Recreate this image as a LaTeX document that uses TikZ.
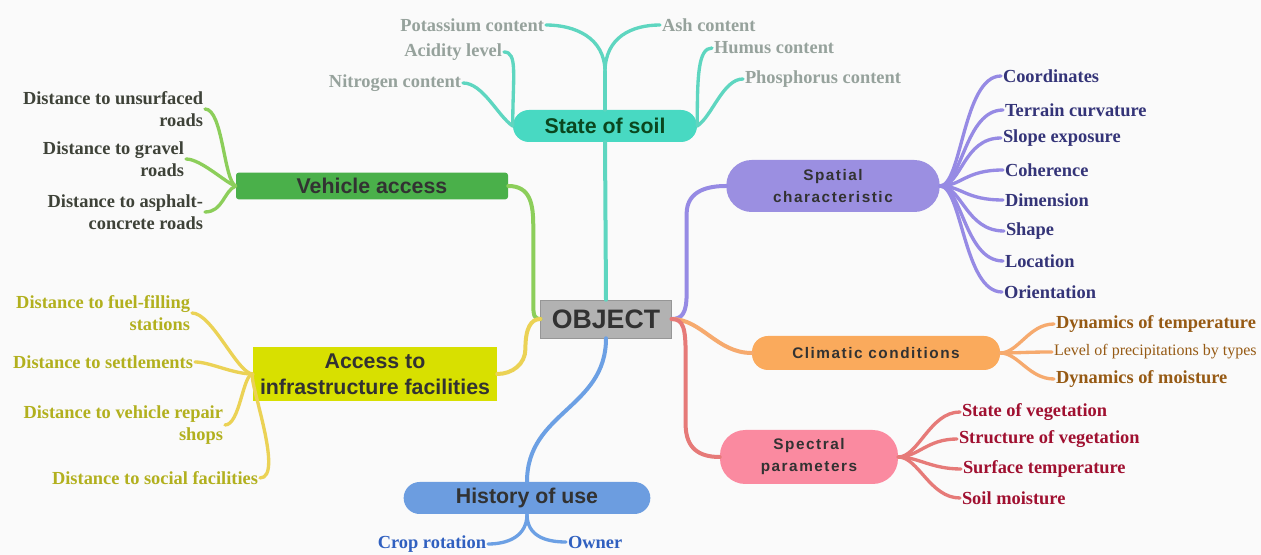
\documentclass[tikz,border=0pt]{standalone}
\usepackage{fontspec}
\setmainfont{Liberation Serif}
\setsansfont{Liberation Sans}
\newfontfamily\spaced[LetterSpace=10]{Liberation Sans}
\usepackage{tikz}

\definecolor{paper}{RGB}{250,250,250}
\definecolor{hubtext}{RGB}{50,50,50}
\definecolor{objfill}{RGB}{178,178,178}
\definecolor{objdraw}{RGB}{150,150,150}
\definecolor{soilfill}{RGB}{72,217,194}
\definecolor{soilline}{RGB}{94,214,192}
\definecolor{soiltext}{RGB}{10,70,30}
\definecolor{soilleaf}{RGB}{150,162,156}
\definecolor{vehfill}{RGB}{74,176,74}
\definecolor{vehline}{RGB}{140,206,90}
\definecolor{vehleaf}{RGB}{62,66,56}
\definecolor{infrafill}{RGB}{216,224,0}
\definecolor{infraline}{RGB}{235,210,85}
\definecolor{infraleaf}{RGB}{178,176,30}
\definecolor{spatfill}{RGB}{155,143,225}
\definecolor{spatline}{RGB}{150,138,228}
\definecolor{spatleaf}{RGB}{52,52,120}
\definecolor{climfill}{RGB}{250,170,92}
\definecolor{climline}{RGB}{246,170,110}
\definecolor{climleaf}{RGB}{150,90,20}
\definecolor{specfill}{RGB}{250,138,160}
\definecolor{specline}{RGB}{230,122,120}
\definecolor{specleaf}{RGB}{160,16,48}
\definecolor{histfill}{RGB}{108,157,224}
\definecolor{histline}{RGB}{108,160,228}
\definecolor{histleaf}{RGB}{48,96,192}

\tikzset{
	leaf/.style={font={\fontsize{13.8}{16.5}\selectfont\bfseries}, inner sep=0pt, outer sep=1.5pt},
	lleaf/.style={leaf, anchor=east, align=right},
	rleaf/.style={leaf, anchor=west, align=left},
	hub/.style={font={\sffamily\fontsize{16}{19.5}\selectfont\bfseries}, text=hubtext, inner sep=0pt, align=center},
	smallhub/.style={hub, font={\spaced\fontsize{11.5}{16.5}\selectfont\bfseries}},
	br/.style={line width=3pt, line cap=round},
	twig/.style={line width=2.5pt, line cap=round}
}

\begin{document}
\begin{tikzpicture}[x=0.75pt,y=-0.75pt]
	\fill[paper] (0,0) rectangle (1261,555);
	\useasboundingbox (0,0) rectangle (1261,555);

	\node[hub, fill=objfill, draw=objdraw, font={\sffamily\fontsize{20}{24}\selectfont\bfseries}, minimum width=98pt, minimum height=28.5pt] (obj) at (606,319) {OBJECT};
	\node[hub, fill=soilfill, text=soiltext, rounded corners=12pt, minimum width=138pt, minimum height=24pt] (soil) at (605,126) {State of soil};
	\node[hub, fill=vehfill, rounded corners=2pt, minimum width=204pt, minimum height=20pt] (veh) at (372,186) {Vehicle access};
	\node[hub, fill=infrafill, minimum width=183pt, minimum height=40pt] (infra) at (375,374) {Access to\\infrastructure facilities};
	\node[smallhub, fill=spatfill, rounded corners=19pt, minimum width=160pt, minimum height=39pt] (spat) at (833,186) {Spatial\\characteristic};
	\node[smallhub, fill=climfill, rounded corners=12pt, minimum width=186pt, minimum height=25.5pt] (clim) at (876,353) {Climatic conditions};
	\node[smallhub, fill=specfill, rounded corners=19pt, minimum width=133.5pt, minimum height=40.5pt] (spec) at (809,457) {Spectral\\parameters};
	\node[hub, fill=histfill, rounded corners=12pt, minimum width=185pt, minimum height=24pt] (hist) at (527,498) {History of use};

	\node[lleaf, text=soilleaf] (pot) at (546,25) {Potassium content};
	\node[lleaf, text=soilleaf] (acid) at (504,52) {Acidity level};
	\node[lleaf, text=soilleaf] (nitro) at (463,83) {Nitrogen content};
	\node[rleaf, text=soilleaf] (ash) at (660,25) {Ash content};
	\node[rleaf, text=soilleaf] (humus) at (712,48) {Humus content};
	\node[rleaf, text=soilleaf] (phos) at (743,79) {Phosphorus content};

	\node[lleaf, text=vehleaf] (unsurf) at (205,109) {Distance to unsurfaced\\roads};
	\node[lleaf, text=vehleaf] (gravel) at (186,159) {Distance to gravel\\roads};
	\node[lleaf, text=vehleaf] (asphalt) at (205,212) {Distance to asphalt-\\concrete roads};

	\node[lleaf, text=infraleaf] (fuel) at (192,313) {Distance to fuel-filling\\stations};
	\node[lleaf, text=infraleaf] (settle) at (195,362) {Distance to settlements};
	\node[lleaf, text=infraleaf] (repair) at (225,425) {Distance to vehicle repair\\shops};
	\node[lleaf, text=infraleaf] (social) at (260,478) {Distance to social facilities};

	\node[rleaf, text=spatleaf] (coord) at (1001,76) {Coordinates};
	\node[rleaf, text=spatleaf] (curv) at (1003,110) {Terrain curvature};
	\node[rleaf, text=spatleaf] (slope) at (1001,138) {Slope exposure};
	\node[rleaf, text=spatleaf] (coher) at (1003,170) {Coherence};
	\node[rleaf, text=spatleaf] (dimen) at (1003,200) {Dimension};
	\node[rleaf, text=spatleaf] (shape) at (1004,231) {Shape};
	\node[rleaf, text=spatleaf] (loc) at (1003,261) {Location};
	\node[rleaf, text=spatleaf] (orient) at (1002,292) {Orientation};

	\node[rleaf, text=climleaf] (dyntemp) at (1054,324) {Dynamics of temperature};
	\node[rleaf, text=climleaf, font={\fontsize{12}{14}\selectfont}] (precip) at (1052,352) {Level of precipitations by types};
	\node[rleaf, text=climleaf] (dynmoist) at (1054,379) {Dynamics of moisture};

	\node[rleaf, text=specleaf] (stateveg) at (960,412) {State of vegetation};
	\node[rleaf, text=specleaf] (structveg) at (957,439) {Structure of vegetation};
	\node[rleaf, text=specleaf] (surftemp) at (961,469) {Surface temperature};
	\node[rleaf, text=specleaf] (soilmoist) at (960,498) {Soil moisture};

	\node[lleaf, text=histleaf] (crop) at (488,544) {Crop rotation};
	\node[rleaf, text=histleaf] (owner) at (566,542) {Owner};

	\coordinate (soilfork) at (605,72);
	\draw[br, soilline] (obj.north) -- (soil.south);
	\draw[br, soilline] (soil.north) -- (soilfork);
	\draw[twig, soilline] (soilfork) .. controls +(0,-35) and +(28,0) .. (pot.east);
	\draw[twig, soilline] (soilfork) .. controls +(0,-35) and +(-28,0) .. (ash.west);
	\draw[twig, soilline] (soil.west) .. controls +(0,-50) and +(14,0) .. (acid.east);
	\draw[twig, soilline] (soil.west) .. controls +(-15,-10) and +(20,0) .. (nitro.east);
	\draw[twig, soilline] (soil.east) .. controls +(0,-50) and +(-14,0) .. (humus.west);
	\draw[twig, soilline] (soil.east) .. controls +(15,-10) and +(-20,0) .. (phos.west);

	\draw[br, vehline] (veh.east) .. controls +(22,0) and +(0,-22) .. ++(25,40) -- ++(0,78) .. controls +(0,12) and +(-6,0) .. (obj.west);
	\draw[twig, vehline] (veh.west) .. controls +(-12,-5) and +(18,0) .. (unsurf.east);
	\draw[twig, vehline] (veh.west) .. controls +(-10,-3) and +(15,0) .. (gravel.east);
	\draw[twig, vehline] (veh.west) .. controls +(-12,5) and +(18,0) .. (asphalt.east);

	\draw[br, infraline] (obj.west) .. controls +(-10,0) and +(0,-20) .. ++(-15,30) .. controls +(0,15) and +(15,0) .. (infra.east);
	\draw[twig, infraline] (infra.west) .. controls +(-15,0) and +(20,0) .. (fuel.east);
	\draw[twig, infraline] (infra.west) .. controls +(-20,0) and +(15,0) .. (settle.east);
	\draw[twig, infraline] (infra.west) .. controls +(-10,0) and +(15,0) .. (repair.east);
	\draw[twig, infraline] (infra.west) .. controls +(-5,5) and +(25,0) .. (social.east);

	\draw[br, spatline] (obj.east) .. controls +(10,0) and +(0,20) .. ++(15,-25) -- ++(0,-80) .. controls +(0,-25) and +(-15,0) .. (spat.west);
	\foreach \n in {coord,curv,slope,coher,dimen,shape,loc,orient}
		\draw[twig, spatline] (spat.east) .. controls +(22,0) and +(-38,0) .. (\n.west);

	\draw[br, climline] (obj.east) .. controls +(30,0) and +(-35,0) .. (clim.west);
	\foreach \n in {dyntemp,precip,dynmoist}
		\draw[twig, climline] (clim.east) .. controls +(18,0) and +(-25,0) .. (\n.west);

	\draw[br, specline] (obj.east) .. controls +(12,0) and +(0,-25) .. ++(14,35) -- ++(0,70) .. controls +(0,25) and +(-20,0) .. (spec.west);
	\foreach \n in {stateveg,structveg,surftemp,soilmoist}
		\draw[twig, specline] (spec.east) .. controls +(20,0) and +(-30,0) .. (\n.west);

	\draw[br, histline] (obj.south) .. controls +(0,70) and +(0,-70) .. (hist.north);
	\draw[twig, histline] (hist.south) .. controls +(0,22) and +(20,0) .. (crop.east);
	\draw[twig, histline] (hist.south) .. controls +(0,22) and +(-20,0) .. (owner.west);
\end{tikzpicture}
\end{document}
